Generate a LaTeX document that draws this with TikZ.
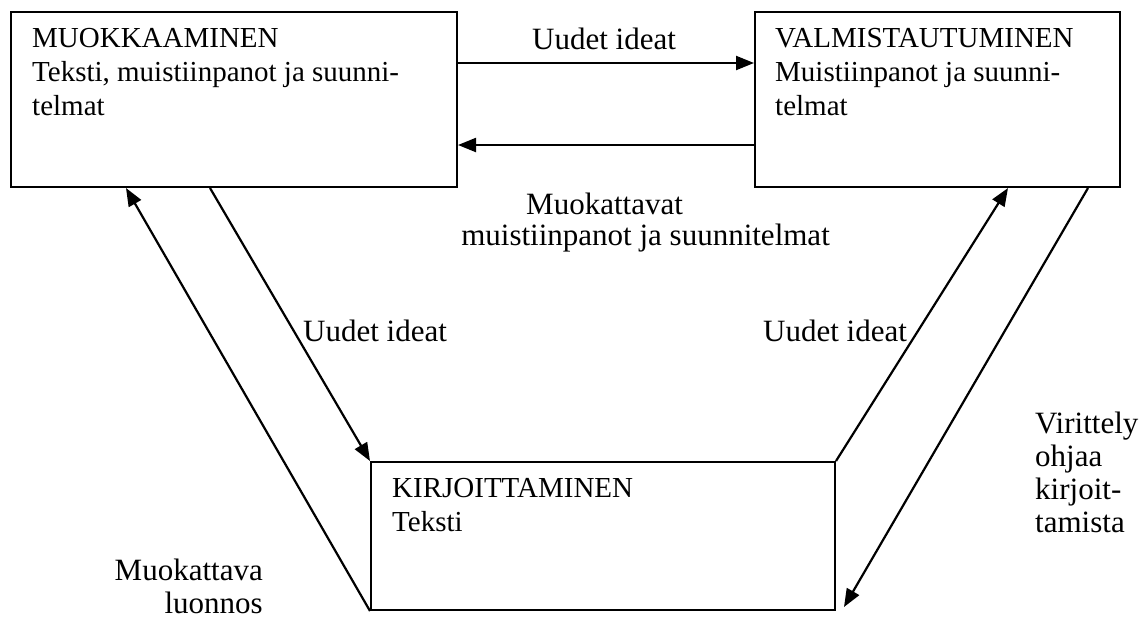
\documentclass[tikz,border=0pt]{standalone}
\usepackage{fontspec}
\setmainfont{Liberation Serif}
\usetikzlibrary{arrows.meta,calc}
\begin{document}
\begin{tikzpicture}[x=1pt,y=-1pt,
  box/.style={draw, line width=2pt, inner sep=0pt, anchor=north west},
  boxtxt/.style={inner sep=0pt, anchor=base west, font=\fontsize{29}{34}\selectfont},
  lbl/.style={inner sep=0pt, anchor=base west, font=\fontsize{31}{36}\selectfont},
  lblr/.style={lbl, anchor=base east},
  arr/.style={line width=2.2pt, -{Triangle[length=18pt,width=14pt]}}]
\useasboundingbox (0,0) rectangle (1147,621);
% boxes
\node[box, minimum width=446pt, minimum height=175pt] (A) at (10,11) {};
\node[box, minimum width=365pt, minimum height=175pt] (B) at (754,11) {};
\node[box, minimum width=464pt, minimum height=148pt] (C) at (370,461) {};
% box texts
\node[boxtxt] (a1) at (32,47) {MUOKKAAMINEN};
\node[boxtxt] (a2) at (32,81) {Teksti, muistiinpanot ja suunni-};
\node[boxtxt] (a3) at (32,115) {telmat};
\node[boxtxt] (b1) at (775,47) {VALMISTAUTUMINEN};
\node[boxtxt] (b2) at (775,81) {Muistiinpanot ja suunni-};
\node[boxtxt] (b3) at (775,115) {telmat};
\node[boxtxt] (c1) at (392,497) {KIRJOITTAMINEN};
\node[boxtxt] (c2) at (392,531) {Teksti};
% connectors
\draw[arr] ($(A.north east)+(0,52)$) -- ($(B.north west)+(0,52)$);
\draw[arr] ($(B.north west)+(0,134)$) -- ($(A.north east)+(0,134)$);
\draw[arr] (C.south west) -- ($(A.south west)+(116,0)$);
\draw[arr] ($(A.south west)+(200,0)$) -- (C.north west);
\draw[arr] (C.north east) -- ($(B.south west)+(254,0)$);
\draw[arr] ($(B.south west)+(334,0)$) -- ($(C.south east)+(8,-4)$);
% labels
\node[lbl, anchor=base] (l1) at (604,49) {Uudet ideat};
\node[lbl] (l2) at (526,214) {Muokattavat};
\node[lblr] (l3) at (830,245) {muistiinpanot ja suunnitelmat};
\node[lbl] (l4) at (303,341) {Uudet ideat};
\node[lbl] (l5) at (763,341) {Uudet ideat};
\node[lbl] (l6) at (1035,433) {Virittely};
\node[lbl] (l7) at (1035,466) {ohjaa};
\node[lbl] (l8) at (1035,499) {kirjoit-};
\node[lbl] (l9) at (1035,532) {tamista};
\node[lblr] (l10) at (263,580) {Muokattava};
\node[lblr] (l11) at (263,613) {luonnos};
\end{tikzpicture}
\end{document}
